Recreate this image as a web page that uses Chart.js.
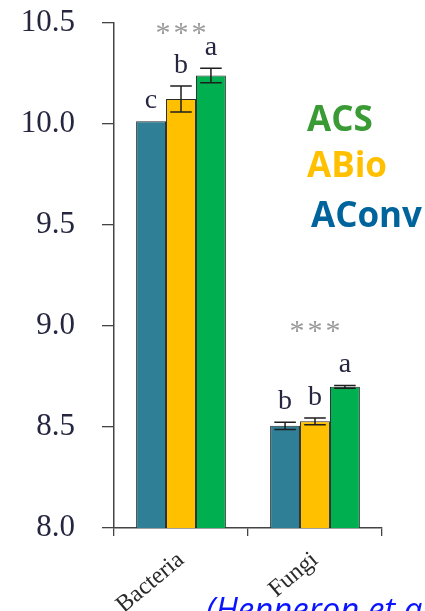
<!DOCTYPE html>
<html>
<head>
<meta charset="utf-8">
<script src="https://cdn.jsdelivr.net/npm/chart.js@4.4.1/dist/chart.umd.min.js"></script>
<style>
  html, body { margin: 0; padding: 0; background: #ffffff; }
  #wrap { width: 425px; height: 611px; position: relative; overflow: hidden; }
</style>
</head>
<body>
<div id="wrap"><canvas id="chart" width="425" height="611"></canvas></div>
<script>
// Microbial biomass (log scale) by farming system
const categories = ['Bacteria', 'Fungi'];
const seriesNames = ['AConv', 'ABio', 'ACS'];
const aconvValues = [10.013, 8.506];
const abioValues = [10.124, 8.528];
const acsValues = [10.240, 8.699];
const aconvErrors = [0, 0.018];
const abioErrors = [0.064, 0.017];
const acsErrors = [0.036, 0.007];
const aconvLetters = ['c', 'b'];
const abioLetters = ['b', 'b'];
const acsLetters = ['a', 'a'];
const significance = ['***', '***'];
const yTickValues = [8.0, 8.5, 9.0, 9.5, 10.0, 10.5];
const citation = '(Henneron et al., 2015)';

const seriesColors = ['#2f7f97', '#ffc000', '#00b050'];
const legendColors = ['#00649c', '#ffc000', '#3a9b35'];

const values = [aconvValues, abioValues, acsValues];
const errors = [aconvErrors, abioErrors, acsErrors];
const letters = [aconvLetters, abioLetters, acsLetters];

// Error bars, group letters, significance stars, legend text and reference
const annotations = {
  id: 'annotations',
  afterDatasetsDraw(chart) {
    const ctx = chart.ctx;
    const y = chart.scales.y;
    ctx.save();
    // error bars
    ctx.strokeStyle = '#1e1e1e';
    ctx.lineWidth = 1.5;
    values.forEach((vals, i) => {
      const meta = chart.getDatasetMeta(i);
      meta.data.forEach((bar, j) => {
        const e = errors[i][j];
        if (!e) return;
        const top = y.getPixelForValue(vals[j] + e);
        const bot = y.getPixelForValue(vals[j] - e);
        const cap = bar.width * 0.36;
        ctx.beginPath();
        ctx.moveTo(bar.x, top); ctx.lineTo(bar.x, bot);
        ctx.moveTo(bar.x - cap, top); ctx.lineTo(bar.x + cap, top);
        ctx.moveTo(bar.x - cap, bot); ctx.lineTo(bar.x + cap, bot);
        ctx.stroke();
      });
    });
    // letters above bars
    ctx.fillStyle = '#262640';
    ctx.font = '28px "Liberation Serif", "DejaVu Serif", serif';
    ctx.textAlign = 'center';
    ctx.textBaseline = 'alphabetic';
    values.forEach((vals, i) => {
      const meta = chart.getDatasetMeta(i);
      meta.data.forEach((bar, j) => {
        const top = y.getPixelForValue(vals[j] + errors[i][j]);
        ctx.fillText(letters[i][j], bar.x, top - 13);
      });
    });
    // significance stars above each group
    const starLift = [41, 60];
    ctx.fillStyle = '#9a9a9a';
    ctx.font = '30px "Liberation Serif", "DejaVu Serif", serif';
    categories.forEach((c, j) => {
      const cx = chart.scales.x.getPixelForValue(j);
      let hi = Infinity;
      values.forEach((vals, i) => {
        hi = Math.min(hi, y.getPixelForValue(vals[j] + errors[i][j]));
      });
      const cy = hi - starLift[j];
      const marks = significance[j].split('');
      marks.forEach((m, k) => {
        ctx.fillText(m, cx + (k - (marks.length - 1) / 2) * 18, cy + 15);
      });
    });
    // legend, drawn top-down from last series
    ctx.textAlign = 'left';
    ctx.font = 'bold 35px "Open Sans", "DejaVu Sans", sans-serif';
    const legendBase = [227, 177, 131];
    const legendX = [311, 307, 307];
    seriesNames.forEach((name, i) => {
      ctx.fillStyle = legendColors[i];
      ctx.fillText(name, legendX[i], legendBase[i]);
    });
    // reference
    ctx.fillStyle = '#0a14ff';
    ctx.font = 'italic 33px "Open Sans", "DejaVu Sans", sans-serif';
    ctx.fillText(citation, 206, 621);
    ctx.restore();
  }
};

const serifTick = { family: '"Liberation Serif", "DejaVu Serif", serif' };

new Chart(document.getElementById('chart'), {
  type: 'bar',
  data: {
    labels: categories,
    datasets: seriesNames.map((name, i) => ({
      label: name,
      data: values[i],
      backgroundColor: seriesColors[i],
      borderColor: '#2a2a2a',
      borderWidth: 1,
      categoryPercentage: 0.67,
      barPercentage: 1.0
    }))
  },
  options: {
    responsive: false,
    animation: false,
    devicePixelRatio: 1,
    layout: { padding: { left: 0, right: 43, top: 23, bottom: 0 } },
    plugins: {
      legend: { display: false },
      tooltip: { enabled: false }
    },
    scales: {
      x: {
        offset: true,
        grid: {
          offset: true,
          drawOnChartArea: false,
          drawTicks: true,
          tickLength: 8,
          color: '#444',
          lineWidth: 1.3
        },
        border: { display: true, color: '#444', width: 1.5 },
        ticks: {
          color: '#2a2a2a',
          font: { ...serifTick, size: 24 },
          minRotation: 40,
          maxRotation: 40,
          padding: 10
        },
        afterFit(scale) { scale.height = 83; }
      },
      y: {
        min: 8,
        max: 10.5,
        afterBuildTicks(scale) {
          scale.ticks = yTickValues.map(v => ({ value: v }));
        },
        grid: {
          drawOnChartArea: false,
          drawTicks: true,
          tickLength: 12,
          color: '#444',
          lineWidth: 1.3
        },
        border: { display: true, color: '#444', width: 1.5 },
        ticks: {
          color: '#262640',
          font: { ...serifTick, size: 31 },
          padding: 27,
          callback: v => Number(v).toFixed(1)
        },
        afterFit(scale) {
          scale.width = 114;
          scale.paddingTop = 0;
          scale.paddingBottom = 0;
        }
      }
    }
  },
  plugins: [annotations]
});
</script>
</body>
</html>
